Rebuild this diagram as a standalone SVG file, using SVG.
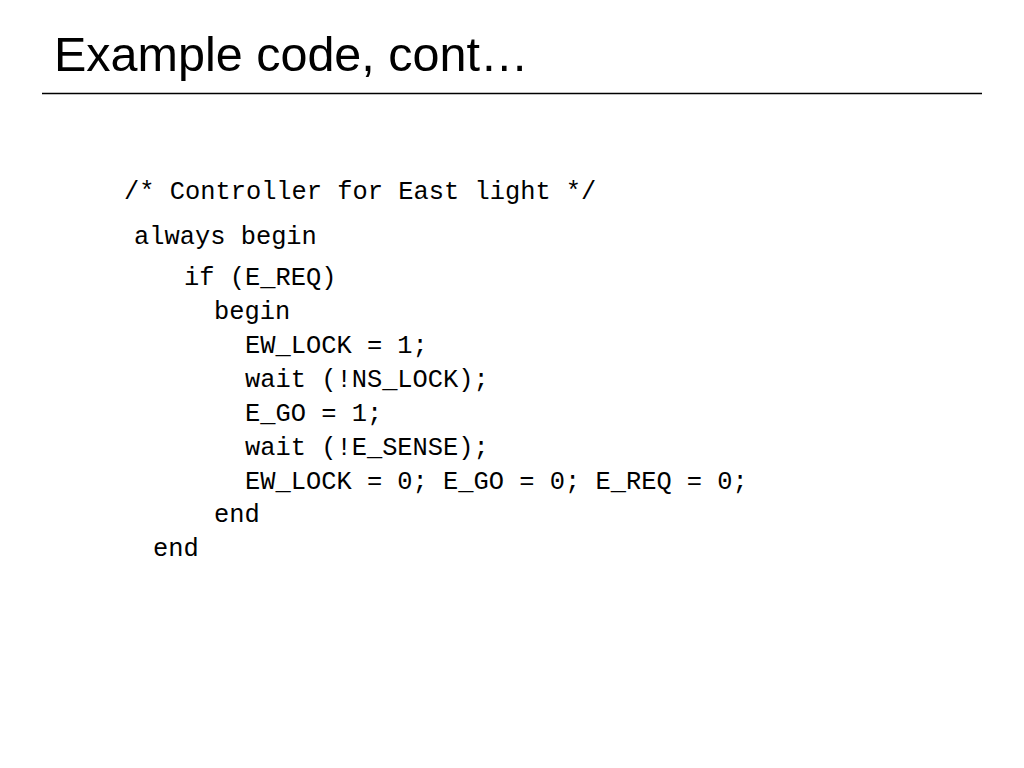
<svg xmlns="http://www.w3.org/2000/svg" width="1024" height="768" viewBox="0 0 1024 768">
<style>
.title{font-family:"Liberation Sans",Arial,sans-serif;font-size:48.5px;fill:#000}
.code{font-family:"Liberation Mono","Courier New",monospace;font-size:25.4px;fill:#000;white-space:pre}
</style>
<rect width="1024" height="768" fill="#fff"/>
<g id="title">
<text class="title" x="54" y="71">Example code, cont…</text>
<line x1="42" y1="93.5" x2="982" y2="93.5" stroke="#000" stroke-width="1.5"/>
</g>
<g id="code">
<text class="code" x="124" y="199">/* Controller for East light */</text>
<text class="code" x="134" y="244">always begin</text>
<text class="code" x="184" y="285">if (E_REQ)</text>
<text class="code" x="214" y="319">begin</text>
<text class="code" x="245" y="353">EW_LOCK = 1;</text>
<text class="code" x="245" y="387">wait (!NS_LOCK);</text>
<text class="code" x="245" y="421">E_GO = 1;</text>
<text class="code" x="245" y="455">wait (!E_SENSE);</text>
<text class="code" x="245" y="489">EW_LOCK = 0; E_GO = 0; E_REQ = 0;</text>
<text class="code" x="214" y="522">end</text>
<text class="code" x="153" y="556">end</text>
</g>
</svg>
